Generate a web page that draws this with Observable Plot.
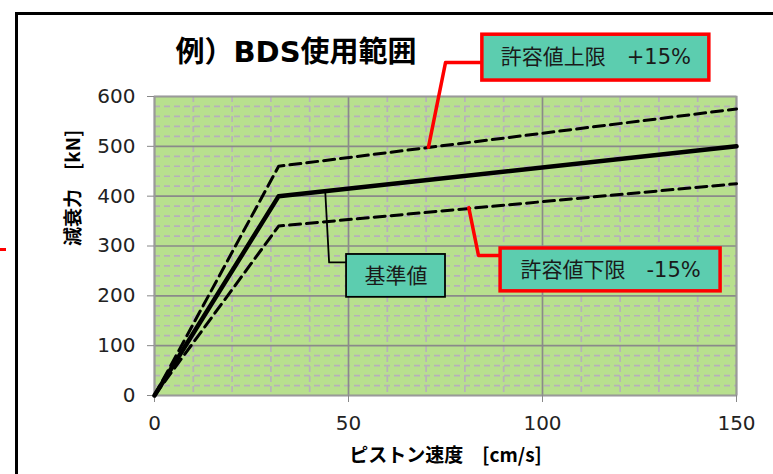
<!DOCTYPE html>
<html><head><meta charset="utf-8">
<script src="https://cdn.jsdelivr.net/npm/d3@7"></script>
<script src="https://cdn.jsdelivr.net/npm/@observablehq/plot@0.6"></script>
<style>
body{margin:0;background:#fff;}
#wrap{position:relative;width:773px;height:474px;overflow:hidden;background:#fff;}
#border{position:absolute;left:15px;top:12px;width:800px;height:500px;border:3px solid #000;box-sizing:border-box;}
#redmark{position:absolute;left:0;top:248px;width:6px;height:3px;background:#f00;}
#chart{position:absolute;left:0;top:0;}
</style></head><body>
<div id="wrap"><div id="border"></div><div id="redmark"></div><div id="chart"></div></div>
<script>
// data
const speed = [0, 32, 150];
const baseForce = [0, 400, 500];
const upperForce = [0, 460, 575];
const lowerForce = [0, 340, 425];
const xTicks = [0, 50, 100, 150];
const yTicks = [0, 100, 200, 300, 400, 500, 600];
const xMinorTicks = [10, 20, 30, 40, 60, 70, 80, 90, 110, 120, 130, 140];
const yMinorTicks = [20, 40, 60, 80, 120, 140, 160, 180, 220, 240, 260, 280, 320, 340, 360, 380, 420, 440, 460, 480, 520, 540, 560, 580];
const titleText = "例）BDS使用範囲";
const xLabel = "ピストン速度　[cm/s]";
const yLabel = "減衰力　[kN]";

const toRows = (name, vals) => speed.map((x, i) => ({series: name, x, y: vals[i]}));
const baseRows = toRows("基準値", baseForce);
const upperRows = toRows("上限", upperForce);
const lowerRows = toRows("下限", lowerForce);

// callout annotations (data coordinates)
const callouts = [
  {label: "許容値上限　+15%", x1: 84.5, x2: 143, y1: 632, y2: 724, color: "#ff0000", sw: 3.5,
   leader: [[84.5, 668], [75, 668], [70.6, 498]]},
  {label: "許容値下限　-15%", x1: 89.2, x2: 145.9, y1: 209, y2: 295, color: "#ff0000", sw: 3.5,
   leader: [[89.2, 281], [83.5, 281], [81, 377]]},
  {label: "基準値", x1: 49.5, x2: 75, y1: 197, y2: 283, color: "#000000", sw: 1.8,
   leader: [[49.5, 267], [45, 267], [44, 410]]}
];
const leaderRows = callouts.flatMap((c, k) => c.leader.map(([x, y]) => ({k, x, y, color: c.color, sw: c.sw})));

const mixed = "'DejaVu Sans', 'Noto Sans CJK JP', sans-serif";
const cjk = "'Noto Sans CJK JP', 'DejaVu Sans', sans-serif";

const chart = Plot.plot({
  width: 773, height: 474,
  marginLeft: 154, marginRight: 37, marginTop: 96, marginBottom: 79,
  x: {domain: [0, 150]},
  y: {domain: [0, 600]},
  style: {fontFamily: "'DejaVu Sans', Verdana, sans-serif", background: "transparent", color: "#222"},
  marks: [
    Plot.frame({fill: "#b8e08e"}),
    Plot.gridX({ticks: xMinorTicks, stroke: "#b6b1ba", strokeOpacity: 1, strokeWidth: 1.7, strokeDasharray: "6,4"}),
    Plot.gridY({ticks: yMinorTicks, stroke: "#b6b1ba", strokeOpacity: 1, strokeWidth: 1.7, strokeDasharray: "6,4"}),
    Plot.gridX({ticks: xTicks, stroke: "#8a8a8a", strokeOpacity: 1, strokeWidth: 1.7}),
    Plot.gridY({ticks: yTicks, stroke: "#8a8a8a", strokeOpacity: 1, strokeWidth: 1.7}),
    Plot.frame({stroke: "#9a9a9a", strokeWidth: 1.7}),
    Plot.axisX({ticks: xTicks, tickSize: 7, tickPadding: 13, fontSize: 20, label: null, stroke: "#888"}),
    Plot.axisY({ticks: yTicks, tickSize: 7, tickPadding: 12, fontSize: 20, label: null, stroke: "#888"}),
    Plot.line(upperRows, {x: "x", y: "y", stroke: "#000", strokeWidth: 3, strokeDasharray: "11,6"}),
    Plot.line(lowerRows, {x: "x", y: "y", stroke: "#000", strokeWidth: 3, strokeDasharray: "11,6"}),
    Plot.line(baseRows, {x: "x", y: "y", stroke: "#000", strokeWidth: 4.5}),
    Plot.line(leaderRows, {x: "x", y: "y", z: "k", stroke: "color", strokeWidth: "sw", curve: "linear"}),
    Plot.rect(callouts, {x1: "x1", x2: "x2", y1: "y1", y2: "y2", fill: "#5ccdaf", stroke: "color", strokeWidth: "sw"}),
    Plot.text(callouts, {x: d => (d.x1 + d.x2) / 2, y: d => (d.y1 + d.y2) / 2, text: "label", fontSize: 21, fill: "#1a1a1a", fontFamily: mixed}),
    Plot.text([titleText], {text: d => d, frameAnchor: "top-left", dx: 21, dy: -44, textAnchor: "start", lineAnchor: "middle", fontSize: 29, fontWeight: "bold", fontFamily: mixed, fill: "#000"}),
    Plot.text([xLabel], {text: d => d, frameAnchor: "bottom", dy: 60, lineAnchor: "middle", fontSize: 19, fontWeight: "bold", fontFamily: cjk, fill: "#000"}),
    Plot.text([yLabel], {text: d => d, frameAnchor: "left", dx: -81, rotate: -90, lineAnchor: "middle", fontSize: 19, fontWeight: "bold", fontFamily: cjk, fill: "#000"})
  ]
});
document.getElementById("chart").appendChild(chart);
</script>
</body></html>
